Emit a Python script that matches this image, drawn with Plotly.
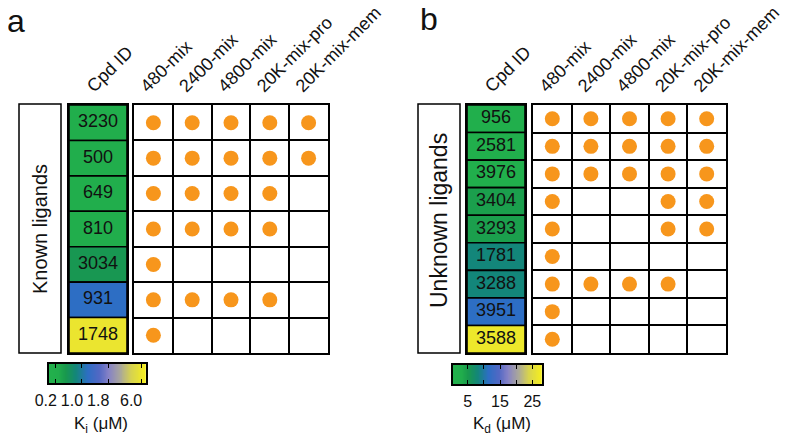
import numpy as np
import plotly.graph_objects as go

# ---------------- data ----------------
libraries = ['480-mix', '2400-mix', '4800-mix', '20K-mix-pro', '20K-mix-mem']

known_ids = ['3230', '500', '649', '810', '3034', '931', '1748']
known_ki = [0.2, 0.2, 0.2, 0.2, 0.53, 1.18, 6.0]          # µM (estimated from colour)
known_hits = [
    [1, 1, 1, 1, 1],
    [1, 1, 1, 1, 1],
    [1, 1, 1, 1, 0],
    [1, 1, 1, 1, 0],
    [1, 0, 0, 0, 0],
    [1, 1, 1, 1, 0],
    [1, 0, 0, 0, 0],
]

unknown_ids = ['956', '2581', '3976', '3404', '3293', '1781', '3288', '3951', '3588']
unknown_kd = [2.0, 2.0, 2.0, 4.6, 4.6, 8.2, 8.2, 11.5, 27.0]   # µM (estimated from colour)
unknown_hits = [
    [1, 1, 1, 1, 1],
    [1, 1, 1, 1, 1],
    [1, 1, 1, 1, 1],
    [1, 0, 0, 1, 1],
    [1, 0, 0, 1, 1],
    [1, 0, 0, 0, 0],
    [1, 1, 1, 1, 0],
    [1, 0, 0, 0, 0],
    [1, 0, 0, 0, 0],
]

ki_ticks = [0.2, 1.0, 1.8, 6.0]
ki_tick_text = ['0.2', '1.0', '1.8', '6.0']
kd_ticks = [5, 10, 15, 20, 25]
kd_tick_text = ['5', '', '15', '', '25']

# ---------------- scales / styles ----------------
FONT = 'Liberation Sans, Arial, sans-serif'
INK = '#111111'
DOT = '#f7961c'
colorscale = [
    [0.00, '#22b14c'], [0.10, '#21ad4c'], [0.17, '#19994d'], [0.28, '#138679'],
    [0.40, '#2d6ec4'], [0.52, '#5268c4'], [0.62, '#8682c6'], [0.74, '#aaa89a'],
    [0.85, '#d6d250'], [1.00, '#f5ef1f'],
]
# Ki colour bar is non-linear: tick value -> position along bar (0..1)
ki_tick_pos = [0.07, 0.34, 0.61, 0.95]
kd_range = [0.45, 28.0]


def ki_to_u(v):
    return np.interp(v, ki_ticks, ki_tick_pos)


def kd_to_u(v):
    return (np.asarray(v, dtype=float) - kd_range[0]) / (kd_range[1] - kd_range[0])


W, H = 800, 443
OFF = 8  # page body margin in front of the plot div
def fx(p):
    return (p - OFF) / W
def fy(p):
    return 1 - (p - OFF) / H
def dx(a, b):
    return [fx(a), fx(b)]
def dy(top, bottom):
    return [fy(bottom), fy(top)]


fig = go.Figure()

def cpd_column(ids, colors_u, xa, ya):
    n = len(ids)
    rows = list(range(n))
    fig.add_trace(go.Bar(
        y=rows, x=[1] * n, base=0, width=1, orientation='h',
        marker=dict(color=list(colors_u), colorscale=colorscale, cmin=0, cmax=1,
                    line=dict(color='black', width=1.6)),
        xaxis=xa, yaxis=ya, showlegend=False, hoverinfo='skip'))
    fig.add_trace(go.Scatter(
        x=[0.5] * n, y=rows, mode='text', text=ids,
        textfont=dict(family=FONT, size=18, color=INK),
        xaxis=xa, yaxis=ya, showlegend=False, hoverinfo='skip'))


def hit_grid(hits, xa, ya):
    xs, ys = [], []
    for r, row in enumerate(hits):
        for c, h in enumerate(row):
            if h:
                xs.append(c)
                ys.append(r)
    fig.add_trace(go.Scatter(
        x=xs, y=ys, mode='markers',
        marker=dict(size=15, color=DOT, line=dict(width=0)),
        xaxis=xa, yaxis=ya, showlegend=False, hoverinfo='skip'))


def colorbar(xvals, uvals, xa, ya):
    fig.add_trace(go.Heatmap(
        x=xvals, y=[0], z=[list(uvals)], colorscale=colorscale, zmin=0, zmax=1,
        showscale=False, xaxis=xa, yaxis=ya, hoverinfo='skip'))


# panel a
cpd_column(known_ids, ki_to_u(known_ki), 'x', 'y')
hit_grid(known_hits, 'x2', 'y2')
ua = np.linspace(0, 1, 200)
colorbar(ua, ua, 'x3', 'y3')

# panel b
cpd_column(unknown_ids, kd_to_u(unknown_kd), 'x4', 'y4')
hit_grid(unknown_hits, 'x5', 'y5')
kb = np.linspace(kd_range[0], kd_range[1], 200)
colorbar(kb, kd_to_u(kb), 'x6', 'y6')

hfont = dict(family=FONT, size=18, color=INK)
frame = dict(showline=True, linecolor='black', linewidth=2, mirror=True,
             zeroline=False, automargin=False)

def setup_cpd(k, n, xd, yd):
    fig.layout['xaxis' + k] = dict(domain=xd, range=[0, 1], showgrid=False, anchor='y' + k,
                                   side='top', tickvals=[0.5], ticktext=['Cpd ID'],
                                   tickangle=-45, ticks='', tickfont=hfont,
                                   ticklabelshift=-10, ticklabelstandoff=0, **frame)
    fig.layout['yaxis' + k] = dict(domain=yd, range=[n - 0.5, -0.5], showgrid=False, anchor='x' + k,
                                   showticklabels=False, ticks='', **frame)

def setup_grid(k, n, xd, yd):
    fig.layout['xaxis' + k] = dict(domain=xd, range=[-0.5, 4.5], anchor='y' + k,
                                   side='top', tickvals=list(range(len(libraries))),
                                   ticktext=libraries, tickangle=-45, ticks='', tickfont=hfont,
                                   ticklabelshift=-12, ticklabelstandoff=0, showgrid=False,
                                   minor=dict(tickmode='array', tickvals=[0.5, 1.5, 2.5, 3.5],
                                              showgrid=True, gridcolor='black', gridwidth=1.6,
                                              ticks=''),
                                   **frame)
    fig.layout['yaxis' + k] = dict(domain=yd, range=[n - 0.5, -0.5], anchor='x' + k,
                                   tickvals=[i + 0.5 for i in range(n - 1)], showgrid=True,
                                   gridcolor='black', gridwidth=1.6, showticklabels=False,
                                   ticks='', **frame)

setup_cpd('', 7, dx(69, 127), dy(105, 353))
setup_grid('2', 7, dx(134, 328), dy(105, 353))
setup_cpd('4', 9, dx(467, 525), dy(105, 353))
setup_grid('5', 9, dx(533, 726), dy(105, 353))

# colour bars
cbfont = dict(family=FONT, size=16, color=INK)
fig.layout['xaxis3'] = dict(domain=dx(49, 146), range=[0, 1], anchor='y3',
                            showline=True, linecolor='black', linewidth=1.5, mirror='ticks',
                            ticks='inside', ticklen=4, tickwidth=1.2, tickcolor='black',
                            tickvals=ki_tick_pos, ticktext=ki_tick_text, ticklabelshift=-10,
                            ticklabelstandoff=2, tickfont=cbfont,
                            showgrid=False, zeroline=False, automargin=False)
fig.layout['yaxis3'] = dict(domain=dy(364, 383), range=[-0.5, 0.5], anchor='x3',
                            showline=True, linecolor='black', linewidth=1.5, mirror=True,
                            showticklabels=False, ticks='', showgrid=False, zeroline=False,
                            automargin=False)
fig.layout['xaxis6'] = dict(domain=dx(453, 542), range=kd_range, anchor='y6',
                            showline=True, linecolor='black', linewidth=1.5, mirror='ticks',
                            ticks='inside', ticklen=4, tickwidth=1.2, tickcolor='black',
                            tickvals=kd_ticks, ticktext=kd_tick_text, ticklabelstandoff=2,
                            tickfont=cbfont, showgrid=False, zeroline=False, automargin=False)
fig.layout['yaxis6'] = dict(domain=dy(365, 384), range=[-0.5, 0.5], anchor='x6',
                            showline=True, linecolor='black', linewidth=1.5, mirror=True,
                            showticklabels=False, ticks='', showgrid=False, zeroline=False,
                            automargin=False)

def note(text, x, y, size, angle=0, xanchor='center'):
    return dict(text=text, x=fx(x), y=fy(y), xref='paper', yref='paper',
                xanchor=xanchor, yanchor='middle', textangle=angle, showarrow=False,
                font=dict(family=FONT, size=size, color=INK))

ann = [
    note('a', 16, 21, 32),
    note('b', 429, 19, 32),
    note('Known ligands', 40, 229, 20, angle=-90),
    note('Unknown ligands', 439, 220, 23, angle=-90),
    note('K<sub>i</sub> (μM)', 101, 425, 17),
    note('K<sub>d</sub> (μM)', 502, 425, 17),
]

shapes = [
    dict(type='rect', xref='paper', yref='paper', x0=fx(19), x1=fx(61),
         y0=fy(353), y1=fy(104), line=dict(color='black', width=1.5)),
    dict(type='rect', xref='paper', yref='paper', x0=fx(418), x1=fx(460),
         y0=fy(353), y1=fy(104), line=dict(color='black', width=1.5)),
]

fig.update_layout(
    template='none',
    width=W, height=H, margin=dict(l=0, r=0, t=0, b=0, pad=0, autoexpand=False),
    paper_bgcolor='white', plot_bgcolor='white', font=dict(family=FONT, color=INK),
    annotations=ann, shapes=shapes, showlegend=False, hovermode=False,
)

fig.write_html('out.html', config={'displayModeBar': False})
